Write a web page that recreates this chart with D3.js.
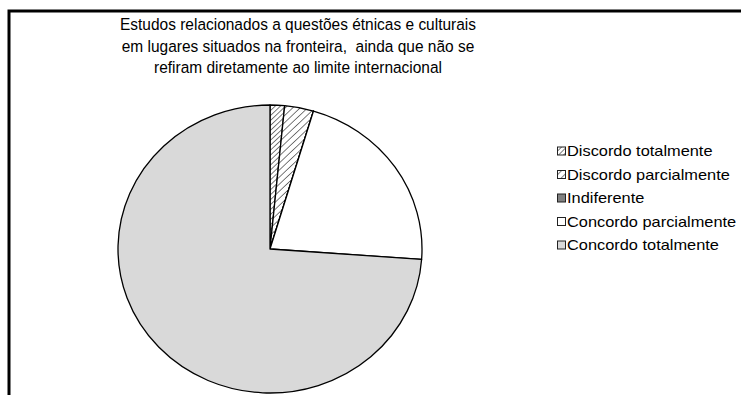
<!DOCTYPE html>
<html>
<head>
<meta charset="utf-8">
<script src="https://cdn.jsdelivr.net/npm/d3@7"></script>
<style>
  body { margin: 0; background: #fff; }
  text { font-family: Arial, "Liberation Sans", sans-serif; fill: #000; white-space: pre; }
</style>
</head>
<body>
<svg id="chart" width="741" height="395"></svg>
<script>
const titleLines = [
  "Estudos relacionados a questões étnicas e culturais",
  "em lugares situados na fronteira,  ainda que não se",
  "refiram diretamente ao limite internacional"
]
const categories = ["Discordo totalmente", "Discordo parcialmente", "Indiferente", "Concordo parcialmente", "Concordo totalmente"]
const values = [1, 2, 0, 14, 48]

const fills = ["url(#hatchDense)", "url(#hatchWide)", "#808080", "#ffffff", "#d9d9d9"]

let svg = d3.select("#chart")
let defs = svg.append("defs")

// padrões de hachura
function hatch(id, gap, w) {
    let p = defs.append("pattern")
        .attr("id", id)
        .attr("patternUnits", "userSpaceOnUse")
        .attr("width", gap)
        .attr("height", gap)
        .attr("patternTransform", "rotate(45)")
    p.append("rect").attr("width", gap).attr("height", gap).attr("fill", "#fff")
    p.append("line")
        .attr("x1", 0).attr("y1", 0).attr("x2", 0).attr("y2", gap)
        .attr("stroke", "#000").attr("stroke-width", w)
}
hatch("hatchDense", 3.5, 1)
hatch("hatchWide", 5, 1)

// moldura
svg.append("path")
    .attr("d", "M9,395 L9,11 L741,11")
    .attr("fill", "none")
    .attr("stroke", "#000")
    .attr("stroke-width", 3)

// título
svg.append("g")
    .selectAll("text")
    .data(titleLines)
    .enter()
    .append("text")
    .attr("transform", (d, i) => `translate(298,${30 + i * 21.5}) scale(0.91,1)`)
    .attr("text-anchor", "middle")
    .attr("font-size", 17)
    .text(d => d)

// pizza (levemente elíptica como no original)
let cx = 270, cy = 249, rx = 152, ry = 144
let pie = d3.pie().sort(null).value(d => d)
let arc = d3.arc().innerRadius(0).outerRadius(ry)
let pieG = svg.append("g")
    .attr("transform", `translate(${cx},${cy}) scale(${rx / ry},1)`)

pieG.selectAll("path")
    .data(pie(values))
    .enter()
    .append("path")
    .attr("d", arc)
    .attr("fill", (d, i) => fills[i])
    .attr("stroke", "#000")
    .attr("stroke-width", 1.3)
    .attr("stroke-linejoin", "round")
    .attr("vector-effect", "non-scaling-stroke")

// legenda
let legend = svg.append("g")
    .attr("transform", "translate(557,151)")
let item = legend.selectAll("g")
    .data(categories)
    .enter()
    .append("g")
    .attr("transform", (d, i) => `translate(0,${i * 23.5})`)
item.append("rect")
    .attr("x", 0.5)
    .attr("y", -4)
    .attr("width", 8)
    .attr("height", 8)
    .attr("fill", (d, i) => fills[i])
    .attr("stroke", "#222")
    .attr("stroke-width", 1)
item.append("text")
    .attr("transform", "translate(10,5) scale(1.17,1)")
    .attr("font-size", 14)
    .text(d => d)
</script>
</body>
</html>
